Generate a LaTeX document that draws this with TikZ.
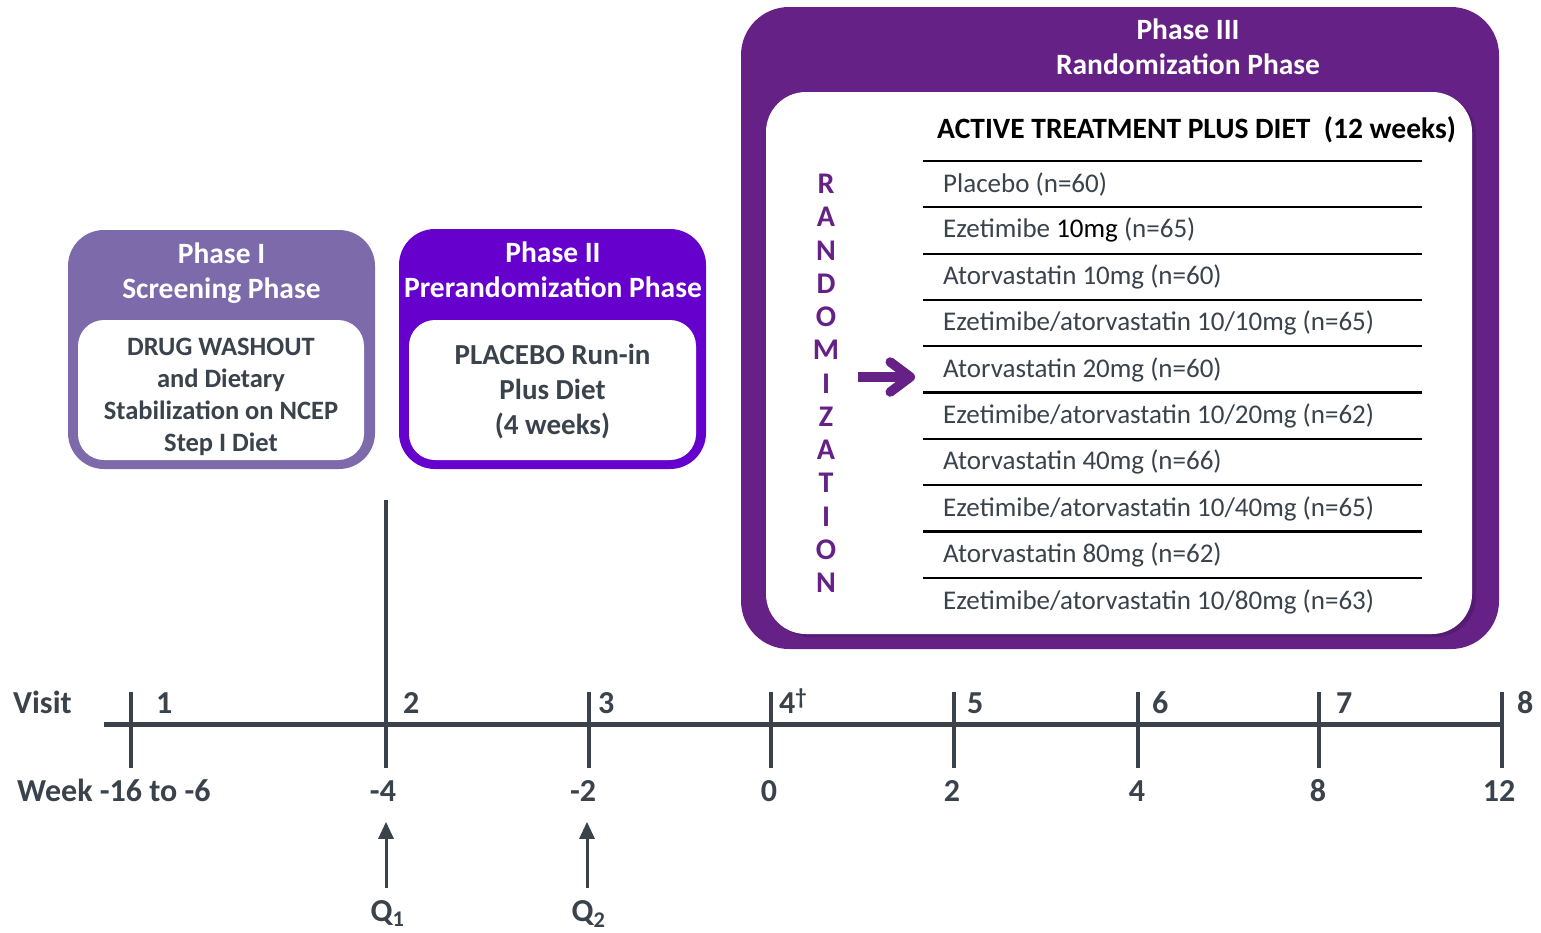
\documentclass[tikz,border=0pt]{standalone}
\usepackage{fontspec}
\setmainfont{Carlito}
\usetikzlibrary{arrows.meta, positioning, calc}

\definecolor{phaseone}{RGB}{124,106,170}
\definecolor{phasetwo}{RGB}{102,0,204}
\definecolor{phasethree}{RGB}{102,33,134}
\definecolor{slate}{RGB}{58,66,76}

\begin{document}
\begin{tikzpicture}[x=1pt, y=-1pt,
	phasebox/.style={rounded corners=36pt, inner sep=0pt},
	innerbox/.style={fill=white, rounded corners=26pt, inner sep=0pt},
	phasehead/.style={white, align=center, inner sep=0pt, font=\fontsize{29.5}{35}\selectfont\bfseries},
	phasetext/.style={slate, align=center, inner sep=0pt, font=\fontsize{26.5}{32}\selectfont\bfseries},
	armtext/.style={anchor=west, slate, inner sep=0pt, font=\fontsize{27}{30}\selectfont},
	armrule/.style={line width=2.2pt, black},
	randletter/.style={phasethree, inner sep=0pt, font=\fontsize{30}{30}\selectfont\bfseries},
	axisline/.style={line width=5pt, slate},
	tickline/.style={line width=3.5pt, slate},
	axislabel/.style={slate, inner sep=0pt, font=\fontsize{32}{34}\selectfont\bfseries},
	qarrow/.style={line width=3pt, slate, -{Triangle[length=17pt, width=15pt]}},
	randarrow/.style={line width=9.5pt, phasethree, -{Straight Barb[length=20pt, width=30pt, line cap=round, line join=round]}}
]
	\useasboundingbox (0,0) rectangle (1541,932);

	% phase I
	\node[phasebox, fill=phaseone, minimum width=307pt, minimum height=239pt] (phase1) at (221.5,349.5) {};
	\node[phasehead] (phase1head) at (221.5,273.5) {Phase I\\Screening Phase};
	\node[innerbox, minimum width=286pt, minimum height=140pt] (phase1in) at (221,390) {};
	\node[phasetext] (phase1text) at (221,397) {DRUG WASHOUT\\and Dietary\\Stabilization on NCEP\\Step I Diet};

	% phase II
	\node[phasebox, fill=phasetwo, minimum width=307pt, minimum height=240pt] (phase2) at (552.5,349) {};
	\node[phasehead] (phase2head) at (553,269.5) {Phase II\\Prerandomization Phase};
	\node[innerbox, minimum width=287pt, minimum height=140pt] (phase2in) at (552.5,390) {};
	\node[phasetext, font=\fontsize{29}{35}\selectfont\bfseries] (phase2text) at (552.5,392) {PLACEBO Run-in\\Plus Diet\\(4 weeks)};

	% phase III
	\node[phasebox, fill=phasethree, rounded corners=48pt, minimum width=758pt, minimum height=642pt] (phase3) at (1120,328) {};
	\node[phasehead] (phase3head) at (1188,46.5) {Phase III\\Randomization Phase};
	\node[innerbox, fill=phasethree!75!black, rounded corners=40pt, minimum width=706pt, minimum height=542pt, opacity=.6] (phase3shadow) at (1123,366) {};
	\node[innerbox, rounded corners=40pt, minimum width=706pt, minimum height=542pt] (phase3in) at (1119,363) {};
	\node[anchor=west, inner sep=0pt, font=\fontsize{29.5}{30}\selectfont\bfseries] (arms) at (937,130) {ACTIVE TREATMENT PLUS DIET\ \ (12 weeks)};
	\foreach \arm [count=\i from 0] in {Placebo (n=60), {Ezetimibe {\color{black}10mg} (n=65)}, Atorvastatin 10mg (n=60), Ezetimibe/atorvastatin 10/10mg (n=65), Atorvastatin 20mg (n=60), Ezetimibe/atorvastatin 10/20mg (n=62), Atorvastatin 40mg (n=66), Ezetimibe/atorvastatin 10/40mg (n=65), Atorvastatin 80mg (n=62), Ezetimibe/atorvastatin 10/80mg (n=63)} {
		\draw[armrule] (923,{161+46.3*\i}) -- (1422,{161+46.3*\i});
		\node[armtext] (arm\i) at (943,{184+46.4*\i}) {\arm};
	}
	\foreach \l [count=\i from 0] in {R,A,N,D,O,M,I,Z,A,T,I,O,N}
		\node[randletter] (rand\i) at (826,{184+33.25*\i}) {\l};
	\coordinate (randtail) at (858,377);
	\draw[randarrow] (randtail) -- ++(57,0);

	% timeline
	\node[axislabel, anchor=base west] (visit) at (13,713.5) {Visit};
	\node[axislabel, anchor=base west] (week) at (17,801.5) {Week -16 to -6};
	\draw[axisline] (104,724) -- (1502,724);
	\foreach \x/\lx/\v [count=\i] in {131/156/1, 386/403/2, 589/598/3, 771/779/{4\textsuperscript{†}}, 954/967/5, 1138/1152/6, 1319/1336/7, 1502/1517/8} {
		\coordinate (t\i) at (\x,724);
		\draw[tickline] ([yshift=32pt]t\i) -- ([yshift=-44pt]t\i);
		\node[axislabel, anchor=base west] (v\i) at (\lx,713.5) {\v};
	}
	\draw[tickline] (t2) -- ++(0,-224);
	\foreach \x/\w [count=\i from 2] in {383/-4, 583/-2, 769/0, 952/2, 1137/4, 1318/8, 1499/12}
		\node[axislabel, anchor=base] (w\i) at (\x,801.5) {\w};

	% questionnaires
	\node[axislabel, anchor=base] (q1) at (387.5,921) {Q\textsubscript{1}};
	\node[axislabel, anchor=base] (q2) at (588.5,921) {Q\textsubscript{2}};
	\draw[qarrow] ([xshift=-1.5pt, yshift=12pt]q1.north) -- ++(0,-66);
	\draw[qarrow] ([xshift=-1.5pt, yshift=12pt]q2.north) -- ++(0,-66);
\end{tikzpicture}
\end{document}
